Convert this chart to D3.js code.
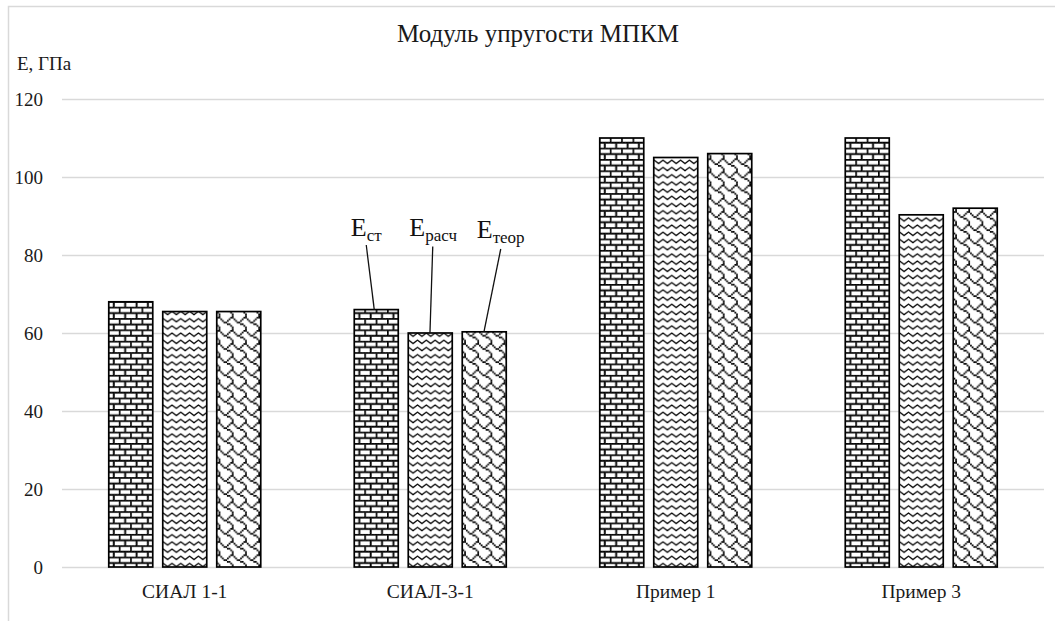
<!DOCTYPE html>
<html>
<head>
<meta charset="utf-8">
<script src="https://cdn.jsdelivr.net/npm/d3@7"></script>
<style>
  body { margin: 0; background: #fff; }
  svg { display: block; }
  text { font-family: "Liberation Serif", "Times New Roman", "DejaVu Serif", serif; }
</style>
</head>
<body>
<script>
// Data
const categories = ["СИАЛ 1-1", "СИАЛ-3-1", "Пример 1", "Пример 3"];
const seriesNames = ["Eст", "Eрасч", "Eтеор"];
const eSt = [68, 66, 110, 110];
const eRasch = [65.5, 60, 105, 90.3];
const eTeor = [65.5, 60.3, 106, 92];
const yTicks = [0, 20, 40, 60, 80, 100, 120];

// callouts on the second group
const calloutSubs = ["ст", "расч", "теор"];

const w = 1055;
const h = 621;
const marginTop = 99;
const marginRight = 11;
const marginBottom = 54;
const marginLeft = 62;
const serif = "'Liberation Serif', 'Times New Roman', serif";

// 8x8 fill bitmaps (one byte per row, high bit on the left)
const brickBits = [0xff, 0x80, 0x80, 0x80, 0xff, 0x08, 0x08, 0x08];
const shingleBits = [0x03, 0x84, 0x48, 0x30, 0x0c, 0x02, 0x01, 0x01];

const series = [eSt, eRasch, eTeor];

const svg = d3.select("body").append("svg")
  .attr("width", w)
  .attr("height", h)
  .attr("font-family", serif);

const defs = svg.append("defs");

function bitPattern(id, rows, cw, ch, grow) {
  const p = defs.append("pattern")
    .attr("id", id)
    .attr("patternUnits", "userSpaceOnUse")
    .attr("width", 8 * cw)
    .attr("height", 8 * ch);
  p.append("rect").attr("width", 8 * cw).attr("height", 8 * ch).attr("fill", "#fff");
  rows.forEach((b, r) => {
    for (let c = 0; c < 8; c++) {
      if (b & (0x80 >> c)) {
        p.append("rect")
          .attr("x", c * cw - grow / 2)
          .attr("y", r * ch - grow / 2)
          .attr("width", cw + grow)
          .attr("height", ch + grow)
          .attr("fill", "#000");
      }
    }
  });
}
bitPattern("pat0", brickBits, 1.42, 1.42, 0.4);
bitPattern("pat2", shingleBits, 1.65, 1.65, 0.1);

// wave: zigzag rows
const waveW = 8.8, waveH = 7.2;
const wave = defs.append("pattern")
  .attr("id", "pat1")
  .attr("patternUnits", "userSpaceOnUse")
  .attr("width", waveW)
  .attr("height", waveH);
wave.append("rect").attr("width", waveW).attr("height", waveH).attr("fill", "#fff");
wave.append("path")
  .attr("d", `M-2.2,3.5 L0,5.2 L${waveW / 2},1.8 L${waveW},5.2 L${waveW + 2.2},3.5`)
  .attr("fill", "none")
  .attr("stroke", "#000")
  .attr("stroke-width", 1.3)
  .attr("stroke-linejoin", "round");

// outer frame (cropped chart area border)
svg.append("path")
  .attr("d", `M8.5,${h} V6.5 H${w}`)
  .attr("fill", "none")
  .attr("stroke", "#d9d9d9")
  .attr("stroke-width", 1.5);

const x0 = d3.scaleBand()
  .domain(categories)
  .range([marginLeft, w - marginRight]);

const x1 = d3.scaleBand()
  .domain(d3.range(seriesNames.length))
  .range([0, x0.bandwidth()])
  .paddingInner(10 / 54)
  .paddingOuter(0.866);

const y = d3.scaleLinear()
  .domain([0, 120])
  .range([h - marginBottom, marginTop]);

// gridlines
svg.append("g")
  .selectAll("line")
  .data(yTicks)
  .join("line")
  .attr("x1", marginLeft)
  .attr("x2", w - marginRight)
  .attr("y1", (d) => y(d) + 0.5)
  .attr("y2", (d) => y(d) + 0.5)
  .attr("stroke", "#d9d9d9")
  .attr("stroke-width", 1.5);

// y tick labels
svg.append("g")
  .selectAll("text")
  .data(yTicks)
  .join("text")
  .attr("x", 43)
  .attr("y", (d) => y(d) + 6.5)
  .attr("text-anchor", "end")
  .attr("font-size", "19px")
  .attr("fill", "#1a1a1a")
  .text((d) => d);

svg.append("text")
  .attr("x", 17)
  .attr("y", 70)
  .attr("font-size", "19px")
  .attr("fill", "#1a1a1a")
  .text("E, ГПа");

// title
svg.append("text")
  .attr("x", 538)
  .attr("y", 42)
  .attr("text-anchor", "middle")
  .attr("font-size", "25px")
  .attr("fill", "#1a1a1a")
  .text("Модуль упругости МПКМ");

// bars
const groups = svg.append("g")
  .selectAll("g")
  .data(categories)
  .join("g")
  .attr("transform", (d) => `translate(${x0(d)},0)`);

groups.selectAll("rect")
  .data((d, i) => series.map((s, k) => ({ k, v: s[i] })))
  .join("rect")
  .attr("x", (d) => x1(d.k))
  .attr("y", (d) => y(d.v))
  .attr("width", x1.bandwidth())
  .attr("height", (d) => y(0) - y(d.v))
  .attr("fill", (d) => `url(#pat${d.k})`)
  .attr("stroke", "#000")
  .attr("stroke-width", 1.7);

// category labels
svg.append("g")
  .selectAll("text")
  .data(categories)
  .join("text")
  .attr("x", (d) => x0(d) + x0.bandwidth() / 2)
  .attr("y", 598)
  .attr("text-anchor", "middle")
  .attr("font-size", "19.5px")
  .attr("fill", "#1a1a1a")
  .text((d) => d);

// callouts for the second group
const gIdx = 1;
const callouts = calloutSubs.map((sub, k) => ({
  k,
  sub,
  v: series[k][gIdx],
}));
const labelDx = [-3.5, 1, 14.5];   // label left edge vs bar left edge
const lineTopDx = [12, 24.5, 38.5]; // line start vs bar left edge
const lineBotDx = [20, 21.7, 21.7];
const lineTopY = [245, 246.5, 249];
const labelY = [236, 236, 238];

const cg = svg.append("g");
callouts.forEach((c, i) => {
  const bx = x0(categories[gIdx]) + x1(c.k);
  cg.append("line")
    .attr("x1", bx + lineTopDx[i])
    .attr("y1", lineTopY[i])
    .attr("x2", bx + lineBotDx[i])
    .attr("y2", y(c.v))
    .attr("stroke", "#111")
    .attr("stroke-width", 1.3);
  const t = cg.append("text")
    .attr("x", bx + labelDx[i])
    .attr("y", labelY[i])
    .attr("fill", "#111");
  t.append("tspan").attr("font-size", "26px").text("E");
  t.append("tspan").attr("font-size", "17px").attr("dy", 5).text(c.sub);
});
</script>
</body>
</html>
